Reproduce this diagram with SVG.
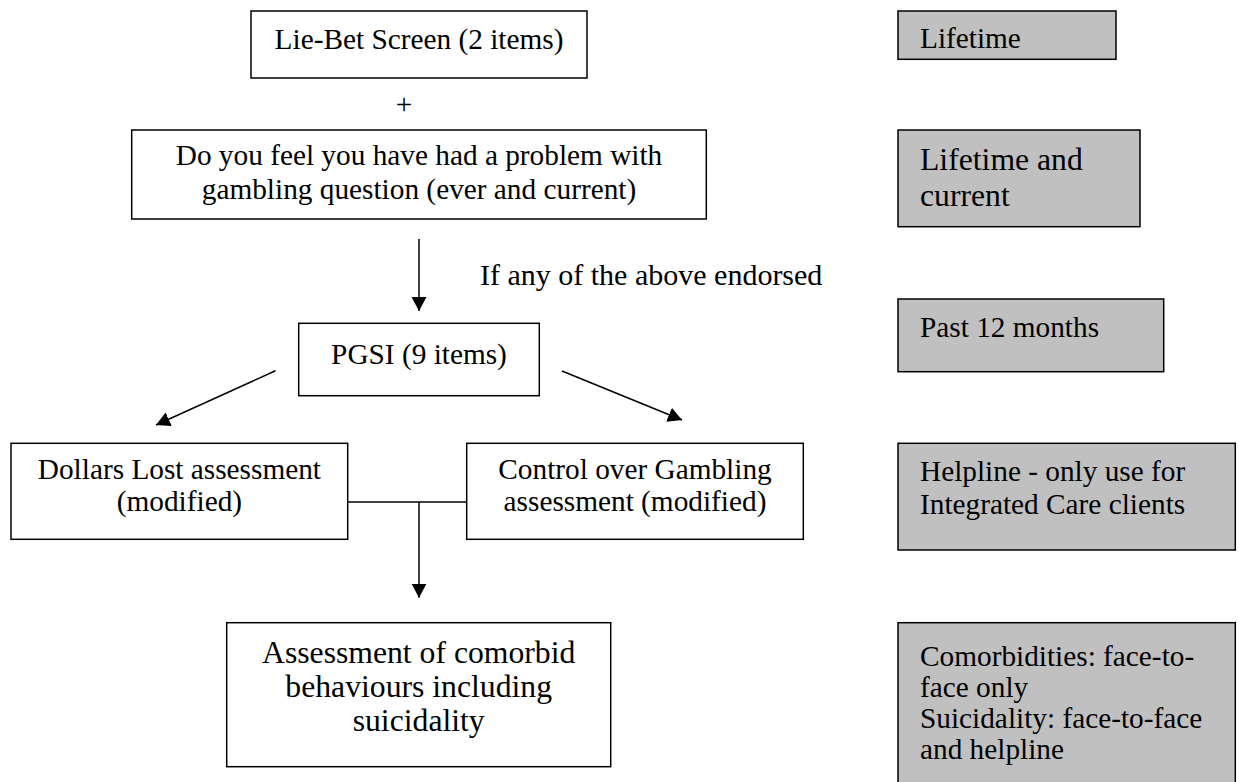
<svg xmlns="http://www.w3.org/2000/svg" width="1239" height="782" viewBox="0 0 1239 782">
<defs>
<style>
.box{fill:#ffffff;stroke:#000000;stroke-width:1.5}
.grey{fill:#c0c0c0;stroke:#000000;stroke-width:1.5}
.t{font-family:"Liberation Serif","Times New Roman",serif;font-size:29.3px;fill:#000000}
.t13{font-family:"Liberation Serif","Times New Roman",serif;font-size:31.7px;fill:#000000}
.c{text-anchor:middle}
.ln{stroke:#000000;stroke-width:1.5;fill:none}
.arr{marker-end:url(#ah)}
</style>
<marker id="ah" markerUnits="userSpaceOnUse" markerWidth="15" markerHeight="16" refX="14" refY="8" orient="auto" viewBox="0 0 15 16">
<path d="M0,0.5 L14,8 L0,15.5 z" fill="#000000"/>
</marker>
</defs>
<rect width="1239" height="782" fill="#ffffff"/>

<g id="connectors">
<line class="ln arr" x1="419" y1="239" x2="419" y2="311"/>
<line class="ln arr" x1="275.5" y1="370.7" x2="156" y2="425"/>
<line class="ln arr" x1="562" y1="371" x2="682" y2="420"/>
<line class="ln" x1="347.7" y1="502" x2="466.7" y2="502"/>
<line class="ln arr" x1="419" y1="502" x2="419" y2="597.7"/>
</g>

<g id="liebet">
<rect class="box" x="251" y="11" width="336" height="67"/>
<text class="t c" x="419" y="49">Lie-Bet Screen (2 items)</text>
</g>

<g id="plus">
<text class="t c" x="404" y="114">+</text>
</g>

<g id="problem-question">
<rect class="box" x="131.7" y="130" width="574.6" height="89"/>
<text class="t c" x="419" y="165">Do you feel you have had a problem with</text>
<text class="t c" x="419" y="199">gambling question (ever and current)</text>
</g>

<g id="endorsed-label">
<text class="t" x="480" y="285" style="font-size:30px">If any of the above endorsed</text>
</g>

<g id="pgsi">
<rect class="box" x="298.7" y="323.3" width="240.6" height="72.4"/>
<text class="t c" x="419" y="364">PGSI (9 items)</text>
</g>

<g id="dollars-lost">
<rect class="box" x="11" y="443.3" width="336.7" height="96"/>
<text class="t c" x="179.4" y="479">Dollars Lost assessment</text>
<text class="t c" x="179.4" y="511">(modified)</text>
</g>

<g id="control">
<rect class="box" x="466.7" y="443.3" width="336.6" height="96"/>
<text class="t c" x="635" y="479">Control over Gambling</text>
<text class="t c" x="635" y="511">assessment (modified)</text>
</g>

<g id="comorbid">
<rect class="box" x="226.7" y="622.7" width="384" height="144"/>
<text class="t13 c" x="418.7" y="663">Assessment of comorbid</text>
<text class="t13 c" x="418.7" y="697">behaviours including</text>
<text class="t13 c" x="418.7" y="731">suicidality</text>
</g>

<g id="note-lifetime">
<rect class="grey" x="898" y="11" width="218" height="48.3"/>
<text class="t" x="920" y="48">Lifetime</text>
</g>

<g id="note-lifetime-current">
<rect class="grey" x="898" y="130" width="242" height="96.7"/>
<text class="t13" x="920" y="170">Lifetime and</text>
<text class="t13" x="920" y="206">current</text>
</g>

<g id="note-past12">
<rect class="grey" x="898" y="299" width="265.7" height="72.7"/>
<text class="t" x="920" y="337">Past 12 months</text>
</g>

<g id="note-helpline">
<rect class="grey" x="898" y="443.3" width="337.3" height="106.7"/>
<text class="t" x="920" y="481">Helpline - only use for</text>
<text class="t" x="920" y="514">Integrated Care clients</text>
</g>

<g id="note-comorbidities">
<rect class="grey" x="898" y="622.7" width="337.3" height="180"/>
<text class="t" x="920" y="666">Comorbidities: face-to-</text>
<text class="t" x="920" y="697">face only</text>
<text class="t" x="920" y="728">Suicidality: face-to-face</text>
<text class="t" x="920" y="759">and helpline</text>
</g>
</svg>
